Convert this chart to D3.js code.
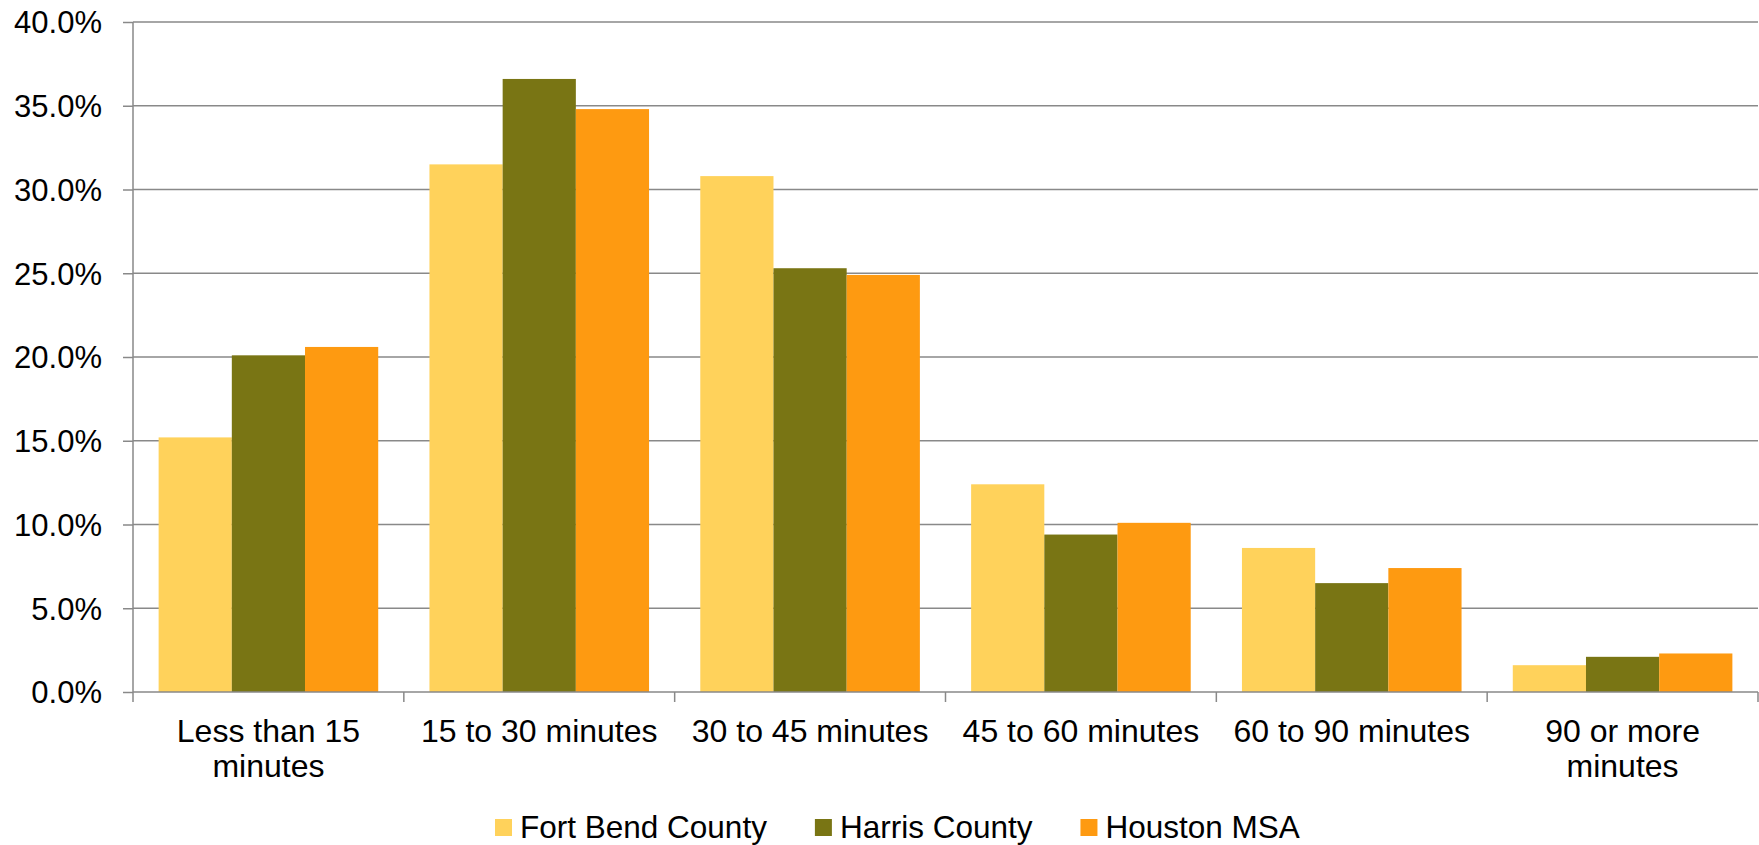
<!DOCTYPE html>
<html>
<head>
<meta charset="utf-8">
<script src="https://cdn.jsdelivr.net/npm/d3@7/dist/d3.min.js"></script>
<style>
  html, body { margin: 0; padding: 0; background: #fff; }
  svg { display: block; font-family: "Liberation Sans", Arial, sans-serif; }
</style>
</head>
<body>
<svg id="chart" width="1759" height="845"></svg>
<script>
const categories = ["Less than 15 minutes", "15 to 30 minutes", "30 to 45 minutes", "45 to 60 minutes", "60 to 90 minutes", "90 or more minutes"];
const seriesNames = ["Fort Bend County", "Harris County", "Houston MSA"];
const fortBend = [15.2, 31.5, 30.8, 12.4, 8.6, 1.6];
const harris   = [20.1, 36.6, 25.3, 9.4, 6.5, 2.1];
const houston  = [20.6, 34.8, 24.9, 10.1, 7.4, 2.3];
const seriesColors = ["#FFD25B", "#797514", "#FE9A11"];
const yTicks = [0, 5, 10, 15, 20, 25, 30, 35, 40];

const seriesValues = [fortBend, harris, houston];

const svg = d3.select("#chart");
const W = 1759, H = 845;
const m = { left: 133, right: 1, top: 22, bottom: 153 };
const plotBottom = H - m.bottom; // 692
const gridColor = "#898989";
const tickFont = 31, catFont = 32, legendFont = 31.5;

const x = d3.scaleBand().domain(categories).range([m.left, W - m.right]).padding(0);
const bw = x.bandwidth();
const gapOffset = bw * 0.35 / 3.7;
const xs = d3.scaleBand().domain(seriesNames).range([gapOffset, bw - gapOffset]).padding(0);
const y = d3.scaleLinear().domain([0, 40]).range([plotBottom, m.top]);

// gridlines
svg.append("g").selectAll("line").data(yTicks.filter(d => d > 0)).join("line")
  .attr("x1", m.left).attr("x2", W - m.right)
  .attr("y1", d => y(d)).attr("y2", d => y(d))
  .attr("stroke", gridColor).attr("stroke-width", 1.5);

// bars
const groups = svg.append("g").selectAll("g").data(categories).join("g")
  .attr("transform", c => `translate(${x(c)},0)`);
groups.selectAll("rect")
  .data((c, i) => seriesNames.map((s, j) => ({ s, j, v: seriesValues[j][i] })))
  .join("rect")
  .attr("x", d => xs(d.s))
  .attr("width", xs.bandwidth())
  .attr("y", d => y(d.v))
  .attr("height", d => y(0) - y(d.v))
  .attr("fill", d => seriesColors[d.j]);

// y axis
const yAxis = d3.axisLeft(y).tickValues(yTicks).tickSize(10).tickPadding(21)
  .tickFormat(d => d.toFixed(1) + "%");
const gy = svg.append("g").attr("transform", `translate(${m.left},0)`).call(yAxis);
gy.select(".domain").attr("stroke", gridColor).attr("stroke-width", 1.5).attr("d", `M0,${m.top}V${plotBottom}`);
gy.selectAll(".tick line").attr("stroke", gridColor).attr("stroke-width", 1.5);
gy.selectAll(".tick text").attr("fill", "#000").attr("font-size", tickFont)
  .attr("font-family", '"Liberation Sans", Arial, sans-serif').attr("dy", "0.35em");

// x axis
const xAxis = d3.axisBottom(x).tickSize(0).tickFormat("");
const gx = svg.append("g").attr("transform", `translate(0,${plotBottom})`).call(xAxis);
gx.select(".domain").attr("stroke", gridColor).attr("stroke-width", 1.5).attr("d", `M${m.left},0H${W - m.right}`);
gx.selectAll(".tick").remove();
const boundaries = categories.map(c => x(c)).concat([x(categories[categories.length - 1]) + bw]);
gx.selectAll("line.bt").data(boundaries).join("line").attr("class", "bt")
  .attr("x1", d => d).attr("x2", d => d).attr("y1", 0).attr("y2", 10)
  .attr("stroke", gridColor).attr("stroke-width", 1.5);

// category labels with wrapping
const labelG = svg.append("g").attr("font-size", catFont).attr("fill", "#000").attr("text-anchor", "middle");
categories.forEach(c => {
  const t = labelG.append("text").attr("x", x(c) + bw / 2).attr("y", plotBottom + 50);
  const words = c.split(" ");
  let line = [];
  let tspan = t.append("tspan").attr("x", x(c) + bw / 2).attr("dy", 0);
  words.forEach(w => {
    line.push(w);
    tspan.text(line.join(" "));
    if (tspan.node().getComputedTextLength() > 262 && line.length > 1) {
      line.pop();
      tspan.text(line.join(" "));
      line = [w];
      tspan = t.append("tspan").attr("x", x(c) + bw / 2).attr("dy", 35).text(w);
    }
  });
});

// legend
const legend = svg.append("g").attr("font-size", legendFont).attr("fill", "#000");
let lx = 495;
seriesNames.forEach((s, j) => {
  legend.append("rect").attr("x", lx).attr("y", 819).attr("width", 17).attr("height", 17).attr("fill", seriesColors[j]);
  const t = legend.append("text").attr("x", lx + 25).attr("y", 838).text(s);
  lx += 25 + t.node().getComputedTextLength() + 48;
});
</script>
</body>
</html>
